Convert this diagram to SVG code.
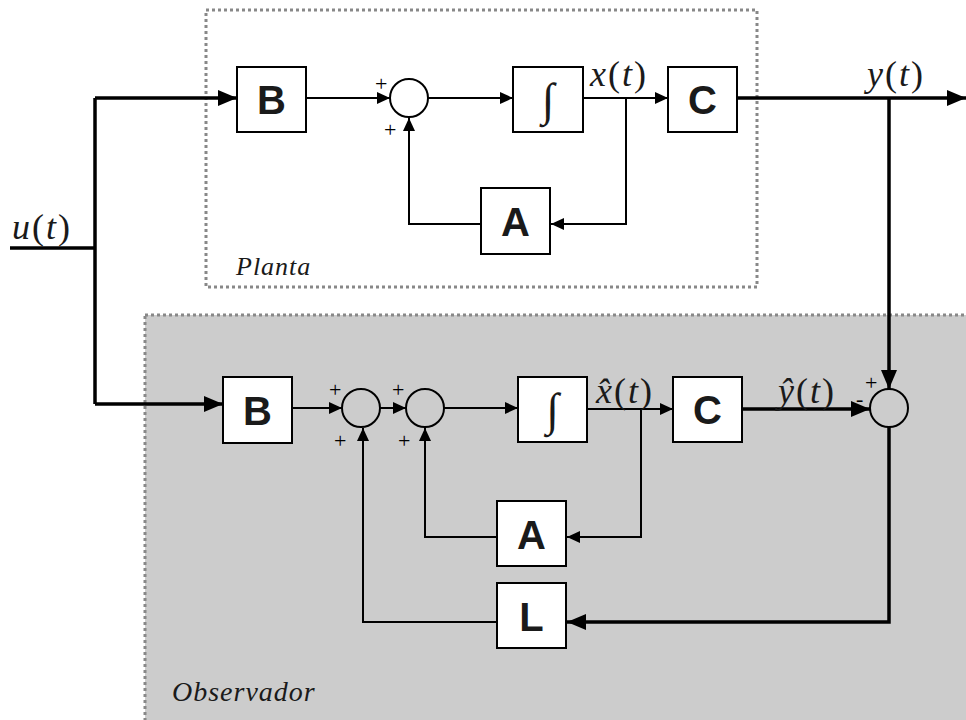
<svg xmlns="http://www.w3.org/2000/svg" width="966" height="720" viewBox="0 0 966 720">
<defs>
<marker id="a" markerUnits="userSpaceOnUse" markerWidth="13" markerHeight="12" refX="13" refY="6" orient="auto"><path d="M0,0 L13,6 L0,12 z" fill="#000"/></marker>
<marker id="b" markerUnits="userSpaceOnUse" markerWidth="19" markerHeight="16" refX="19" refY="8" orient="auto"><path d="M0,0 L19,8 L0,16 z" fill="#000"/></marker>
</defs>
<style>
.blk{fill:#fff;stroke:#000;stroke-width:2}
.sum{fill:none;stroke:#000;stroke-width:2}
.bl{font-family:"Liberation Sans",Arial,sans-serif;font-weight:bold;font-size:40px;text-anchor:middle;fill:#1a1a1a}
.int{font-family:"Liberation Serif","Times New Roman",serif;font-size:46px;text-anchor:middle;fill:#1a1a1a}
.w{fill:none;stroke:#000;stroke-width:2}
.t{fill:none;stroke:#000;stroke-width:3.5}
.lab{font-family:"Liberation Serif","Times New Roman",serif;font-size:36px;letter-spacing:2px;fill:#1a1a1a}
.pm{font-family:"Liberation Serif","Times New Roman",serif;font-size:22px;fill:#000}
.ital{font-family:"Liberation Serif","Times New Roman",serif;font-style:italic;fill:#1a1a1a}
.dot{stroke:#888;stroke-width:3;stroke-dasharray:3 3}
</style>
<rect width="966" height="720" fill="#fff"/>
<rect id="observador" x="145" y="315" width="830" height="420" fill="#cccccc" class="dot"/>
<rect id="planta" x="206" y="10" width="551" height="277" fill="none" class="dot"/>
<text class="ital" x="236" y="275" font-size="26" letter-spacing="1">Planta</text>
<text class="ital" x="172" y="701" font-size="28" letter-spacing="1">Observador</text>

<g id="connectors">
<polyline class="t" points="10,248 95,248"/>
<polyline class="t" points="95,98 95,404"/>
<polyline class="t" points="95,98 237,98" marker-end="url(#b)"/>
<polyline class="t" points="95,404 223,404" marker-end="url(#b)"/>
<line class="w" x1="306" y1="98" x2="390" y2="98" marker-end="url(#a)"/>
<line class="w" x1="428" y1="98" x2="513" y2="98" marker-end="url(#a)"/>
<line class="w" x1="583" y1="98" x2="668" y2="98" marker-end="url(#a)"/>
<polyline class="w" points="626,98 626,224 551,224" marker-end="url(#a)"/>
<polyline class="w" points="481,224 409,224 409,118" marker-end="url(#a)"/>
<line class="t" x1="737" y1="98" x2="966" y2="98" marker-end="url(#b)"/>
<polyline class="t" points="889,98 889,389" marker-end="url(#b)"/>

<line class="w" x1="292" y1="408" x2="342" y2="408" marker-end="url(#a)"/>
<line class="w" x1="380" y1="408" x2="406" y2="408" marker-end="url(#a)"/>
<line class="w" x1="444" y1="408" x2="518" y2="408" marker-end="url(#a)"/>
<line class="w" x1="587" y1="409" x2="673" y2="409" marker-end="url(#a)"/>
<polyline class="w" points="641,409 641,537 567,537" marker-end="url(#a)"/>
<polyline class="w" points="497,537 425,537 425,428" marker-end="url(#a)"/>
<line class="t" x1="742" y1="409" x2="870" y2="409" marker-end="url(#b)"/>
<polyline class="t" points="889,427 889,622 567,622" marker-end="url(#b)"/>
<polyline class="w" points="497,622 363,622 363,428" marker-end="url(#a)"/>
</g>

<g id="B1"><rect class="blk" x="237" y="67" width="69" height="65"/><text class="bl" x="271.5" y="114">B</text></g>
<g id="S1"><circle class="sum" cx="409" cy="98" r="19"/><text class="pm" x="375" y="91">+</text><text class="pm" x="384" y="137">+</text></g>
<g id="I1"><rect class="blk" x="513" y="67" width="70" height="65"/><text class="int" x="548" y="115">∫</text></g>
<g id="C1"><rect class="blk" x="668" y="67" width="69" height="65"/><text class="bl" x="702.5" y="114">C</text></g>
<g id="A1"><rect class="blk" x="481" y="188" width="69" height="66"/><text class="bl" x="515.5" y="236">A</text></g>

<g id="B2"><rect class="blk" x="223" y="377" width="69" height="66"/><text class="bl" x="257.5" y="425">B</text></g>
<g id="S2"><circle class="sum" cx="361" cy="408" r="19"/><text class="pm" x="329" y="397">+</text><text class="pm" x="334" y="448">+</text></g>
<g id="S3"><circle class="sum" cx="425" cy="408" r="19"/><text class="pm" x="392" y="397">+</text><text class="pm" x="398" y="448">+</text></g>
<g id="I2"><rect class="blk" x="518" y="377" width="69" height="65"/><text class="int" x="552.5" y="425">∫</text></g>
<g id="C2"><rect class="blk" x="673" y="377" width="69" height="65"/><text class="bl" x="707.5" y="424">C</text></g>
<g id="A2"><rect class="blk" x="497" y="501" width="69" height="65"/><text class="bl" x="531.5" y="549">A</text></g>
<g id="L"><rect class="blk" x="497" y="583" width="69" height="65"/><text class="bl" x="531.5" y="631">L</text></g>
<g id="S4"><circle class="sum" cx="889" cy="408" r="19"/><text class="pm" x="865" y="390">+</text><text class="pm" x="856" y="406">-</text></g>

<text class="lab" x="12" y="239"><tspan font-style="italic">u</tspan>(<tspan font-style="italic">t</tspan>)</text>
<text class="lab" x="590" y="86"><tspan font-style="italic">x</tspan>(<tspan font-style="italic">t</tspan>)</text>
<text class="lab" x="867" y="86"><tspan font-style="italic">y</tspan>(<tspan font-style="italic">t</tspan>)</text>
<text class="lab" x="596" y="403"><tspan font-style="italic">x̂</tspan>(<tspan font-style="italic">t</tspan>)</text>
<text class="lab" x="778" y="403"><tspan font-style="italic">ŷ</tspan>(<tspan font-style="italic">t</tspan>)</text>
</svg>
